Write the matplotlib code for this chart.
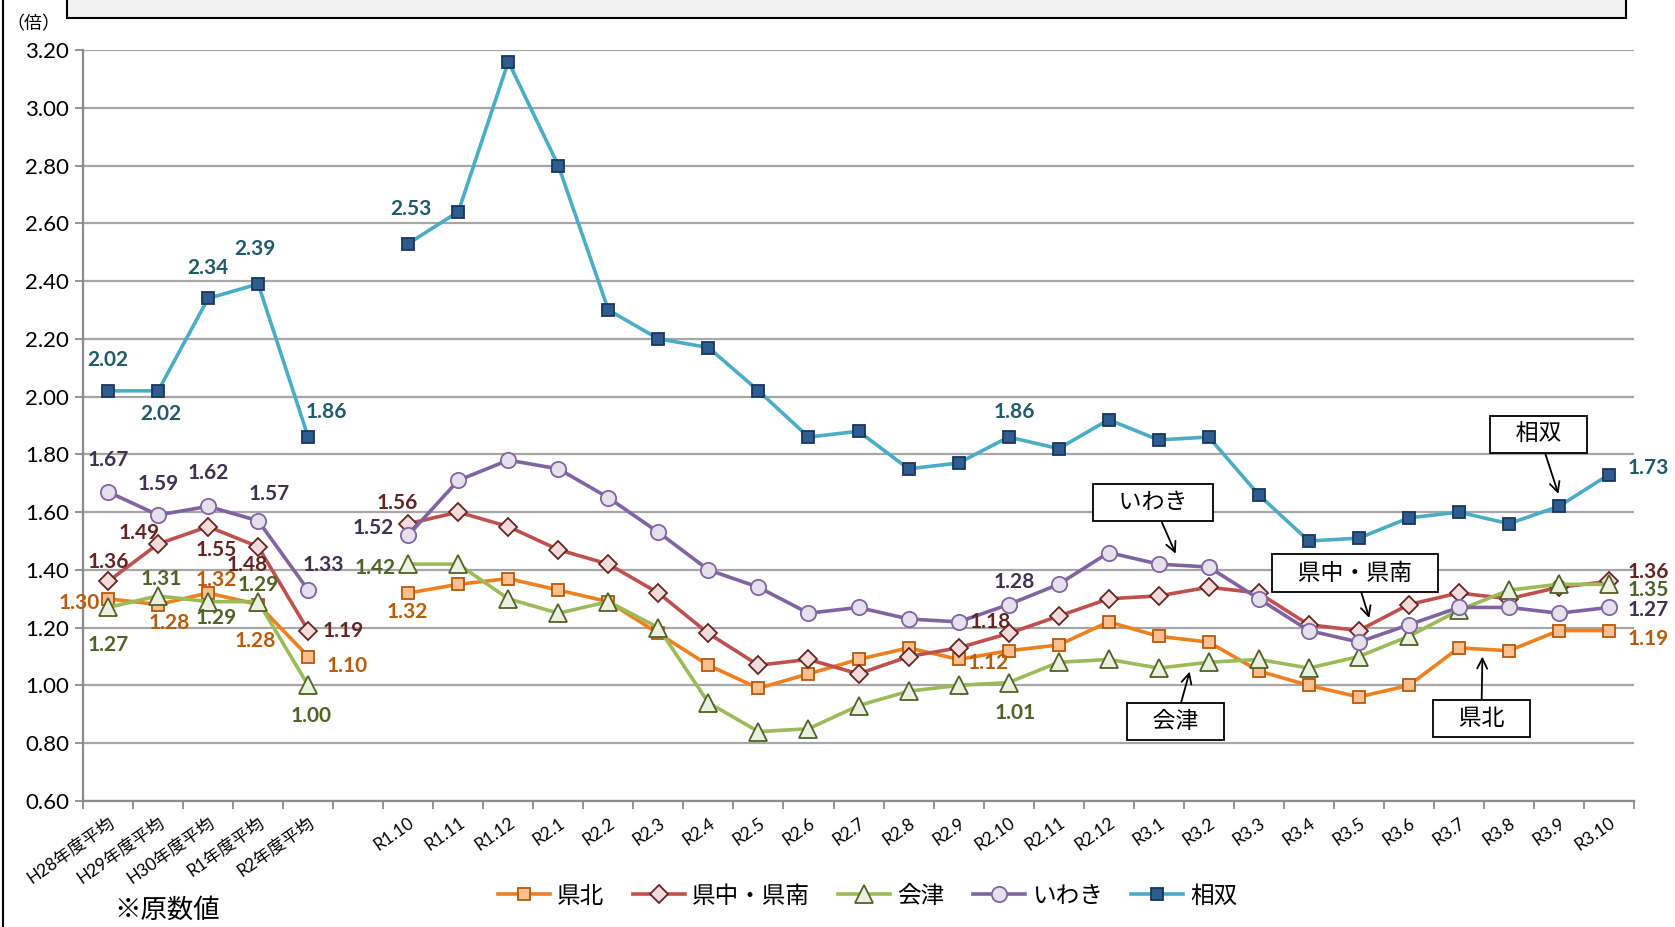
import numpy as np
import matplotlib
matplotlib.use('Agg')
import matplotlib.pyplot as plt
from matplotlib.patches import Rectangle
from matplotlib.lines import Line2D

plt.rcParams['font.family'] = ['Lato', 'Noto Sans CJK JP', 'DejaVu Sans']

# categories: 5 yearly averages, a blank slot, then monthly values
categories = ['H28年度平均', 'H29年度平均', 'H30年度平均', 'R1年度平均', 'R2年度平均', '',
              'R1.10', 'R1.11', 'R1.12', 'R2.1', 'R2.2', 'R2.3', 'R2.4', 'R2.5', 'R2.6',
              'R2.7', 'R2.8', 'R2.9', 'R2.10', 'R2.11', 'R2.12', 'R3.1', 'R3.2', 'R3.3',
              'R3.4', 'R3.5', 'R3.6', 'R3.7', 'R3.8', 'R3.9', 'R3.10']

nan = np.nan
kenpoku = [1.30, 1.28, 1.32, 1.28, 1.10, nan,
           1.32, 1.35, 1.37, 1.33, 1.29, 1.18, 1.07, 0.99, 1.04, 1.09, 1.13, 1.09,
           1.12, 1.14, 1.22, 1.17, 1.15, 1.05, 1.00, 0.96, 1.00, 1.13, 1.12, 1.19, 1.19]
kenchu = [1.36, 1.49, 1.55, 1.48, 1.19, nan,
          1.56, 1.60, 1.55, 1.47, 1.42, 1.32, 1.18, 1.07, 1.09, 1.04, 1.10, 1.13,
          1.18, 1.24, 1.30, 1.31, 1.34, 1.32, 1.21, 1.19, 1.28, 1.32, 1.30, 1.34, 1.36]
aizu = [1.27, 1.31, 1.29, 1.29, 1.00, nan,
        1.42, 1.42, 1.30, 1.25, 1.29, 1.20, 0.94, 0.84, 0.85, 0.93, 0.98, 1.00,
        1.01, 1.08, 1.09, 1.06, 1.08, 1.09, 1.06, 1.10, 1.17, 1.26, 1.33, 1.35, 1.35]
iwaki = [1.67, 1.59, 1.62, 1.57, 1.33, nan,
         1.52, 1.71, 1.78, 1.75, 1.65, 1.53, 1.40, 1.34, 1.25, 1.27, 1.23, 1.22,
         1.28, 1.35, 1.46, 1.42, 1.41, 1.30, 1.19, 1.15, 1.21, 1.27, 1.27, 1.25, 1.27]
soso = [2.02, 2.02, 2.34, 2.39, 1.86, nan,
        2.53, 2.64, 3.16, 2.80, 2.30, 2.20, 2.17, 2.02, 1.86, 1.88, 1.75, 1.77,
        1.86, 1.82, 1.92, 1.85, 1.86, 1.66, 1.50, 1.51, 1.58, 1.60, 1.56, 1.62, 1.73]

# indices that carry data labels
label_idx = [0, 1, 2, 3, 4, 6, 18, 30]

# label offsets (points), one per labelled index
off_kenpoku = [(-21, -3), (8, -13), (6, 9), (-2, -26), (28, -7), (-1, -14), (-15, -9), (28, -6)]
off_kenchu = [(0, 14), (-14, 8), (6, -17), (-8, -13), (25, 0), (-8, 15), (-13, 8), (28, 7)]
off_aizu = [(0, -27), (2, 12), (6, -12), (0, 12), (2, -22), (-24, -3), (5, -22), (28, -4)]
off_iwaki = [(0, 23), (0, 22), (0, 24), (8, 19), (11, 18), (-25, 5), (4, 16), (28, -2)]
off_soso = [(0, 22), (2, -17), (0, 22), (-2, 25), (13, 18), (2, 25), (4, 18), (28, 5)]

series = [
    ('県北', kenpoku, off_kenpoku, dict(color='#F0801E', marker='s', ms=8.5, mfc='#FBC08F', mec='#B65708'), '#B85C0A'),
    ('県中・県南', kenchu, off_kenchu, dict(color='#C0504D', marker='D', ms=9, mfc='#F2DCDB', mec='#632523'), '#632523'),
    ('会津', aizu, off_aizu, dict(color='#9BBB59', marker='^', ms=12.5, mfc='#EBF1DE', mec='#4F6228'), '#4F6228'),
    ('いわき', iwaki, off_iwaki, dict(color='#8064A2', marker='o', ms=11, mfc='#E6E0EC', mec='#8064A2'), '#3F3151'),
    ('相双', soso, off_soso, dict(color='#4BACC6', marker='s', ms=8.5, mfc='#2E5C8E', mec='#17375E'), '#215968'),
]

fig = plt.figure(figsize=(16.75, 9.27), dpi=100)
ax = fig.add_axes([0.0496, 0.136, 0.9259, 0.810])

x = np.arange(len(categories))
handles = []
for name, vals, offs, style, lab_col in series:
    ln, = ax.plot(x, vals, lw=2.6, mew=1.3, zorder=3, **style)
    handles.append(ln)
    for i, (dx, dy) in zip(label_idx, offs):
        ax.annotate(f'{vals[i]:.2f}', (x[i], vals[i]), xytext=(dx, dy),
                    textcoords='offset points', ha='center', va='center',
                    fontsize=15, fontweight='bold', color=lab_col, zorder=5)

ax.set_xlim(-0.5, len(categories) - 0.5)
ax.set_ylim(0.6, 3.2)
ax.set_yticks(np.arange(0.6, 3.21, 0.2))
ax.set_yticklabels([f'{v:.2f}' for v in np.arange(0.6, 3.21, 0.2)], fontsize=16)
ax.yaxis.grid(True, color='#A6A6A6', lw=1.6)
ax.set_axisbelow(True)

ax.set_xticks(x)
ax.set_xticklabels(categories, rotation=35, ha='right', rotation_mode='anchor', fontsize=12.5)
ax.set_xticks(np.arange(-0.5, len(categories)), minor=True)
ax.tick_params(axis='x', which='major', length=0, pad=10)
ax.tick_params(axis='x', which='minor', length=6, width=1.3, color='#8C8C8C')
ax.tick_params(axis='y', length=6, width=1.3, color='#8C8C8C', pad=4)

for s in ['top', 'right']:
    ax.spines[s].set_visible(False)
for s in ['left', 'bottom']:
    ax.spines[s].set_color('#8C8C8C')
    ax.spines[s].set_linewidth(1.6)

# callout boxes
box = dict(boxstyle='square,pad=0.35', fc='white', ec='black', lw=1.3)
arr = dict(arrowstyle='->', color='black', lw=1.3, mutation_scale=18, shrinkA=0, shrinkB=0)
callouts = [('相双', (28.99, 1.663), (28.6, 1.870)),
            ('いわき', (21.34, 1.456), (20.89, 1.633)),
            ('県中・県南', (25.21, 1.233), (24.93, 1.389)),
            ('会津', (21.62, 1.048), (21.34, 0.874)),
            ('県北', (27.47, 1.100), (27.45, 0.885))]
for txt, head, center in callouts:
    ax.annotate('   ' + txt + '   ', head, xytext=center, ha='center', va='center',
                fontsize=16.5, bbox=box, arrowprops=arr, zorder=6)

fig.text(0.02, 0.974, '（倍）', fontsize=13, ha='center', va='center')
fig.text(0.068, 0.018, '※原数値', fontsize=19, ha='left', va='center')

# frame pieces visible in the original
fig.patches.append(Rectangle((0.0402, 0.981), 0.9305, 0.05, transform=fig.transFigure,
                             fc='#F2F2F2', ec='black', lw=1.5))
fig.add_artist(Line2D([0.002, 0.002], [0, 1], transform=fig.transFigure, color='black', lw=1.5))

fig.legend(handles, [s[0] for s in series], loc='center', bbox_to_anchor=(0.518, 0.034),
           ncol=5, frameon=False, fontsize=17, handlelength=2.2, columnspacing=1.2,
           handletextpad=0.3)

fig.savefig('out.png', dpi=100)
